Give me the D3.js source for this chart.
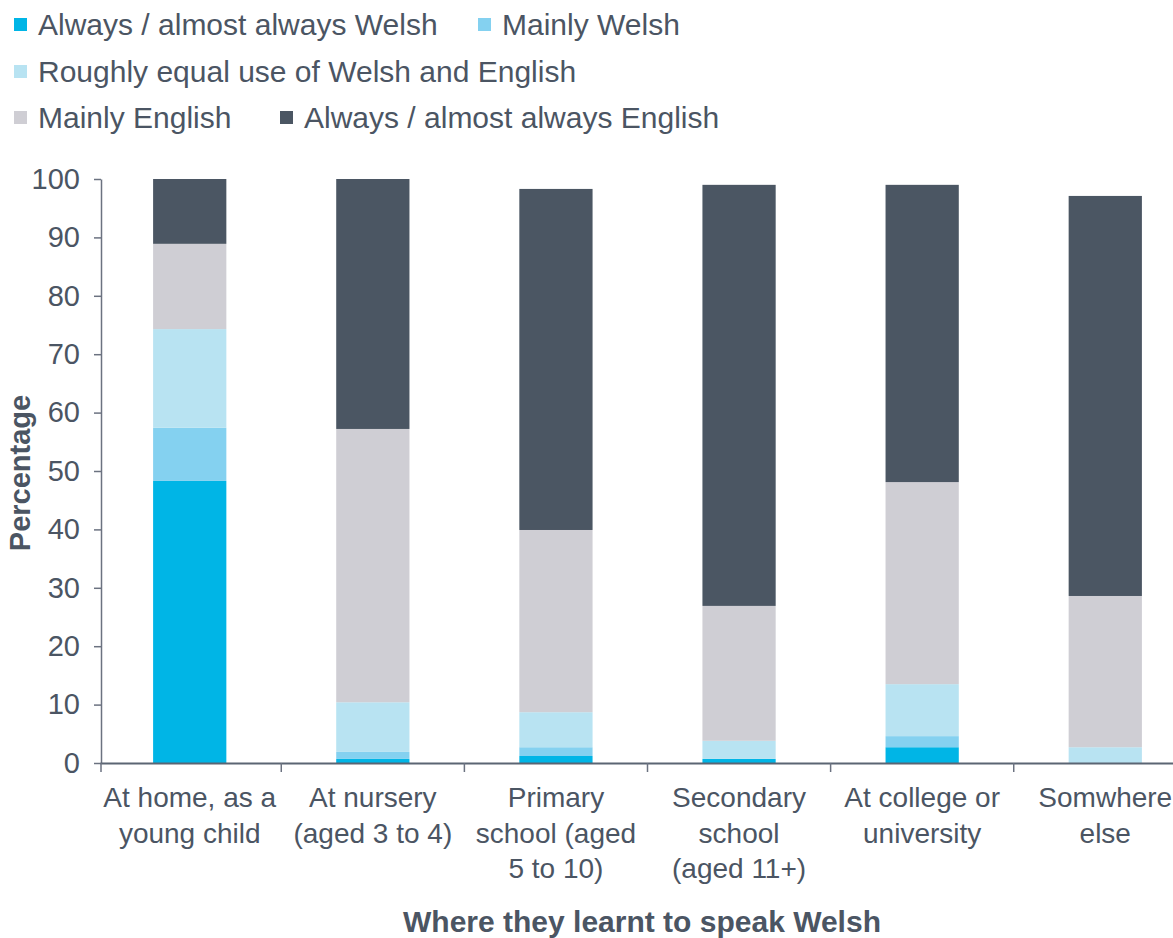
<!DOCTYPE html>
<html>
<head>
<meta charset="utf-8">
<script src="https://cdn.jsdelivr.net/npm/d3@7"></script>
<style>
  body { margin: 0; background: #fff; }
  text { font-family: "Liberation Sans", Arial, sans-serif; fill: #4b5563; }
</style>
</head>
<body>
<script>
// categories and the wrapped lines shown under each bar
var categories = ["At home, as a young child", "At nursery (aged 3 to 4)", "Primary school (aged 5 to 10)",
    "Secondary school (aged 11+)", "At college or university", "Somwhere else"];
var categoryLines = [
    ["At home, as a", "young child"],
    ["At nursery", "(aged 3 to 4)"],
    ["Primary", "school (aged", "5 to 10)"],
    ["Secondary", "school", "(aged 11+)"],
    ["At college or", "university"],
    ["Somwhere", "else"]
];

var seriesNames = ["Always / almost always Welsh", "Mainly Welsh", "Roughly equal use of Welsh and English",
    "Mainly English", "Always / almost always English"];
var seriesColors = ["#00b5e6", "#84d1f0", "#b8e3f2", "#cfced4", "#4b5663"];

// values per series, one per category
var alwaysWelsh   = [48.3, 0.7, 1.2, 0.7, 2.7, 0.0];
var mainlyWelsh   = [9.1, 1.2, 1.5, 0.0, 1.9, 0.0];
var roughlyEqual  = [16.9, 8.5, 6.0, 3.1, 8.9, 2.7];
var mainlyEnglish = [14.6, 46.8, 31.2, 23.1, 34.6, 25.9];
var alwaysEnglish = [11.1, 42.8, 58.4, 72.1, 50.9, 68.5];

var yTicks = [0, 10, 20, 30, 40, 50, 60, 70, 80, 90, 100];

var width = 1173;
var height = 938;

var svg = d3.select("body").append("svg")
    .attr("width", width)
    .attr("height", height);

/*****************  Scales **********************/

var x = d3.scaleBand()
    .domain(categories)
    .range([100, 1195])
    .paddingInner(0.6)
    .paddingOuter(0.29);

var y = d3.scaleLinear()
    .domain([0, 100])
    .range([763, 179]);

/*****************  Stacked bars **********************/

var rows = categories.map(function (c, i) {
    return {
        cat: c,
        s0: alwaysWelsh[i], s1: mainlyWelsh[i], s2: roughlyEqual[i],
        s3: mainlyEnglish[i], s4: alwaysEnglish[i]
    };
});

var stack = d3.stack().keys(["s0", "s1", "s2", "s3", "s4"]);
var layers = stack(rows);

svg.append("g").selectAll("g")
    .data(layers)
    .enter()
    .append("g")
    .attr("fill", function (d, i) { return seriesColors[i]; })
    .selectAll("rect")
    .data(function (d) { return d; })
    .enter()
    .append("rect")
    .attr("x", function (d) { return x(d.data.cat); })
    .attr("width", x.bandwidth())
    .attr("y", function (d) { return y(d[1]); })
    .attr("height", function (d) { return y(d[0]) - y(d[1]); });

/*****************  Axes **********************/

var yAxis = svg.append("g")
    .attr("transform", "translate(101,0)")
    .call(d3.axisLeft(y).tickValues(yTicks).tickSize(7).tickSizeOuter(0).tickPadding(14));

yAxis.select(".domain").attr("stroke", "#6b7280").attr("stroke-width", 1.5);
yAxis.selectAll(".tick line").attr("stroke", "#6b7280").attr("stroke-width", 1.5);
yAxis.selectAll(".tick text")
    .style("font-size", "29px")
    .attr("fill", "#4b5563");

var xAxis = svg.append("g")
    .attr("transform", "translate(0,763)")
    .call(d3.axisBottom(x).tickSize(0).tickSizeOuter(0).tickFormat(""));

xAxis.select(".domain").attr("stroke", "#5b6573").attr("stroke-width", 2);

// boundary ticks between categories
var bounds = categories.map(function (c) { return x(c) - x.step() * x.paddingInner() / 2; });
bounds[0] = 101;
xAxis.selectAll(".bound")
    .data(bounds)
    .enter()
    .append("line")
    .attr("x1", function (d) { return d; })
    .attr("x2", function (d) { return d; })
    .attr("y1", 0)
    .attr("y2", 9)
    .attr("stroke", "#6b7280")
    .attr("stroke-width", 1.5);

// category labels
var catLabels = svg.append("g").selectAll("text")
    .data(categories)
    .enter()
    .append("text")
    .attr("text-anchor", "middle")
    .attr("x", function (d) { return x(d) + x.bandwidth() / 2; })
    .attr("y", 807)
    .style("font-size", "28px");

catLabels.selectAll("tspan")
    .data(function (d, i) { return categoryLines[i]; })
    .enter()
    .append("tspan")
    .attr("x", function () { return d3.select(this.parentNode).attr("x"); })
    .attr("dy", function (d, i) { return i === 0 ? 0 : 35.5; })
    .text(function (d) { return d; });

/*****************  Titles **********************/

svg.append("text")
    .attr("transform", "translate(30,473) rotate(-90)")
    .attr("text-anchor", "middle")
    .style("font-size", "29px")
    .style("font-weight", "bold")
    .text("Percentage");

svg.append("text")
    .attr("x", 642)
    .attr("y", 932)
    .attr("text-anchor", "middle")
    .style("font-size", "30px")
    .style("font-weight", "bold")
    .text("Where they learnt to speak Welsh");

/*****************  Legend **********************/

var legendPos = [
    { x: 14, y: 25 }, { x: 478, y: 25 },
    { x: 14, y: 72 },
    { x: 14, y: 118 }, { x: 280, y: 118 }
];

var legend = svg.append("g").selectAll("g")
    .data(seriesNames)
    .enter()
    .append("g")
    .attr("transform", function (d, i) { return "translate(" + legendPos[i].x + "," + legendPos[i].y + ")"; });

legend.append("rect")
    .attr("x", 0)
    .attr("y", -7)
    .attr("width", 13)
    .attr("height", 13)
    .attr("fill", function (d, i) { return seriesColors[i]; });

legend.append("text")
    .attr("x", 24)
    .attr("y", 10)
    .style("font-size", "30px")
    .text(function (d) { return d; });
</script>
</body>
</html>
